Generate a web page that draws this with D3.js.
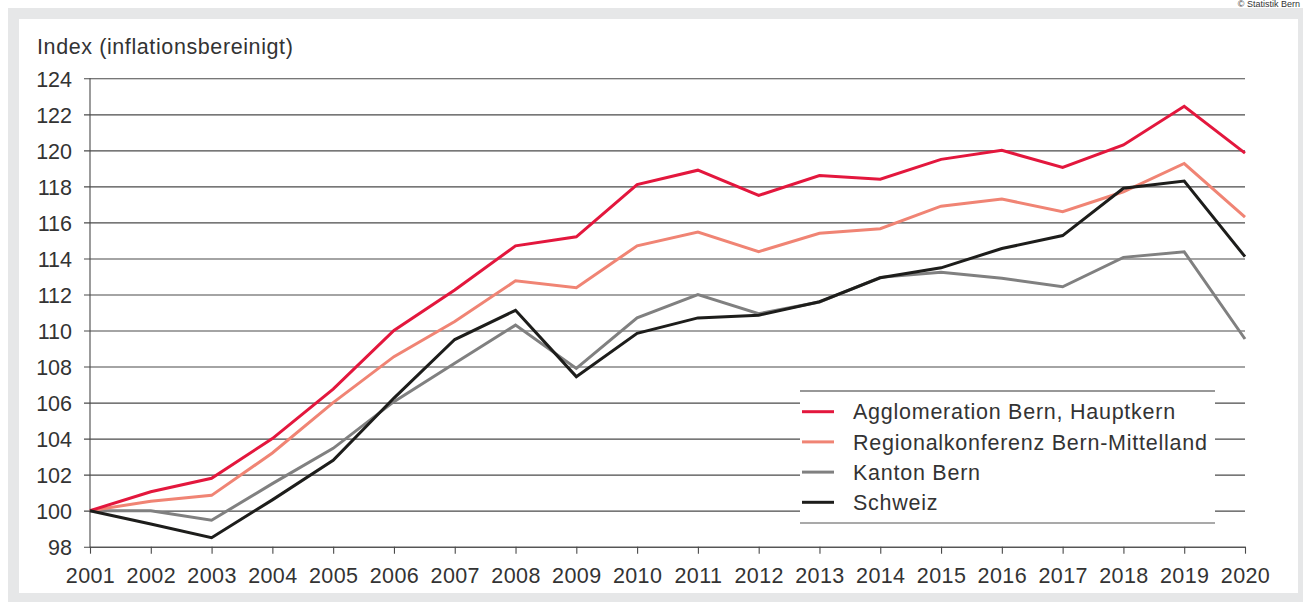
<!DOCTYPE html>
<html><head><meta charset="utf-8">
<script src="https://cdn.jsdelivr.net/npm/d3@7"></script>
<style>
html,body{margin:0;padding:0;background:#fff;}
svg{display:block;font-family:"Liberation Sans",Arial,sans-serif;}
</style></head>
<body><svg id="c" width="1303" height="604"></svg>
<script>
const years = [2001,2002,2003,2004,2005,2006,2007,2008,2009,2010,2011,2012,2013,2014,2015,2016,2017,2018,2019,2020];
const yTicks = [98,100,102,104,106,108,110,112,114,116,118,120,122,124];
const seriesNames = ["Agglomeration Bern, Hauptkern","Regionalkonferenz Bern-Mittelland","Kanton Bern","Schweiz"];
const agglomeration = [100,101.05,101.8,104.0,106.75,110.0,112.25,114.7,115.2,118.1,118.9,117.5,118.6,118.4,119.5,120.0,119.05,120.3,122.45,119.85];
const regionalkonferenz = [100,100.52,100.85,103.2,106.0,108.55,110.5,112.76,112.38,114.7,115.47,114.38,115.4,115.65,116.9,117.3,116.6,117.7,119.27,116.3];
const kanton = [100,100.0,99.47,101.5,103.46,106.05,108.18,110.3,107.9,110.7,112.0,110.93,111.58,112.95,113.23,112.9,112.43,114.06,114.37,109.53];
const schweiz = [100,99.26,98.5,100.6,102.8,106.25,109.5,111.12,107.44,109.84,110.7,110.85,111.6,112.93,113.48,114.55,115.27,117.9,118.3,114.1];
const colors = ["#e3173d","#f08474","#808080","#1d1d1b"];
const allSeries = [agglomeration, regionalkonferenz, kanton, schweiz];

const svg = d3.select("#c");
// frame
svg.append("rect").attr("x",8).attr("y",8).attr("width",1303-8).attr("height",594).attr("fill","#e6e7e8");
svg.append("rect").attr("x",19).attr("y",19).attr("width",1279).attr("height",574).attr("fill","#fff");
svg.append("text").attr("x",1300).attr("y",7).attr("text-anchor","end").attr("font-size",9).attr("fill","#333").text("© Statistik Bern");

const x = d3.scalePoint().domain(years).range([90,1245]);
const y = d3.scaleLinear().domain([98,124]).range([546.7,78.3]);

// y gridlines/axis
const yAxis = d3.axisLeft(y).tickValues(yTicks).tickSize(-(1245-84)).tickSizeOuter(0).tickPadding(10).tickFormat(d3.format("d"));
const gy = svg.append("g").attr("transform","translate(84,0)").call(yAxis);
gy.select(".domain").remove();
gy.selectAll(".tick line").attr("stroke","#4a4a4a").attr("stroke-width",1.1);
gy.selectAll(".tick text").attr("font-size",21.5).attr("fill","#333").attr("x",-12).attr("dy","0.36em");

// y axis vertical line
svg.append("line").attr("x1",90).attr("x2",90).attr("y1",y(124)).attr("y2",y(98)+1).attr("stroke","#4a4a4a").attr("stroke-width",1.1);

// x axis
const xAxis = d3.axisBottom(x).tickSize(7).tickSizeOuter(0).tickPadding(14);
const gx = svg.append("g").attr("transform",`translate(0,${y(98)})`).call(xAxis);
gx.select(".domain").attr("stroke","#4a4a4a").attr("stroke-width",1.1);
gx.selectAll(".tick line").attr("stroke","#4a4a4a").attr("stroke-width",1.1);
gx.selectAll(".tick text").attr("font-size",21.5).attr("fill","#333").attr("letter-spacing",0.4);

// title
svg.append("text").attr("x",37).attr("y",54).attr("font-size",21.5).attr("letter-spacing",0.6).attr("fill","#333").text("Index (inflationsbereinigt)");

// lines
const line = d3.line().x((d,i)=>x(years[i])).y(d=>y(d));
[2,1,0,3].forEach(k=>{
  svg.append("path").attr("d",line(allSeries[k])).attr("fill","none")
    .attr("stroke",colors[k]).attr("stroke-width",3).attr("stroke-linejoin","miter");
});

// legend
const lg = svg.append("g");
lg.append("rect").attr("x",800).attr("y",391).attr("width",415).attr("height",132).attr("fill","#fff");
lg.append("line").attr("x1",800).attr("x2",1215).attr("y1",391).attr("y2",391).attr("stroke","#333").attr("stroke-width",1.1);
lg.append("line").attr("x1",800).attr("x2",1215).attr("y1",523).attr("y2",523).attr("stroke","#555").attr("stroke-width",1.1);
seriesNames.forEach((n,i)=>{
  const yy = 411.7 + i*30.2;
  lg.append("line").attr("x1",802).attr("x2",834).attr("y1",yy).attr("y2",yy).attr("stroke",colors[i]).attr("stroke-width",3);
  lg.append("text").attr("x",853).attr("y",yy).attr("dy","0.36em").attr("font-size",21.5).attr("letter-spacing",0.75).attr("fill","#333").text(n);
});
</script></body></html>
